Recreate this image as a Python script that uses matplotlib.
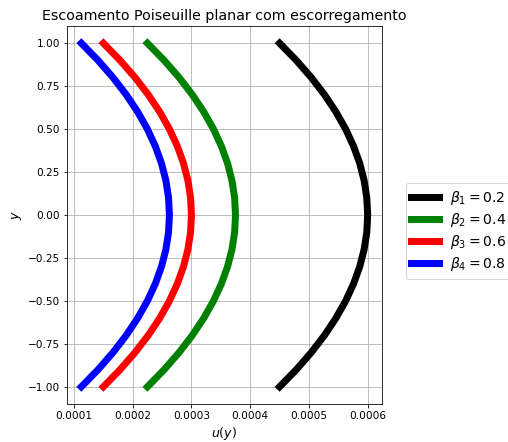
import matplotlib
matplotlib.use("Agg")
import matplotlib.pyplot as plt

# ========== 数据 ==========
y_vals = [-1.0, -0.9, -0.8, -0.7, -0.6, -0.5, -0.4, -0.3, -0.2, -0.1, 0.0,
          0.1, 0.2, 0.3, 0.4, 0.5, 0.6, 0.7, 0.8, 0.9, 1.0]

# u(y) em unidades de 1e-4
u_beta1 = [4.5, 4.785, 5.04, 5.265, 5.46, 5.625, 5.76, 5.865, 5.94, 5.985, 6.0,
           5.985, 5.94, 5.865, 5.76, 5.625, 5.46, 5.265, 5.04, 4.785, 4.5]
u_beta2 = [2.25, 2.535, 2.79, 3.015, 3.21, 3.375, 3.51, 3.615, 3.69, 3.735, 3.75,
           3.735, 3.69, 3.615, 3.51, 3.375, 3.21, 3.015, 2.79, 2.535, 2.25]
u_beta3 = [1.5, 1.785, 2.04, 2.265, 2.46, 2.625, 2.76, 2.865, 2.94, 2.985, 3.0,
           2.985, 2.94, 2.865, 2.76, 2.625, 2.46, 2.265, 2.04, 1.785, 1.5]
u_beta4 = [1.125, 1.41, 1.665, 1.89, 2.085, 2.25, 2.385, 2.49, 2.565, 2.61, 2.625,
           2.61, 2.565, 2.49, 2.385, 2.25, 2.085, 1.89, 1.665, 1.41, 1.125]

betas = ["0.2", "0.4", "0.6", "0.8"]
colors = ["black", "green", "red", "blue"]
series = [u_beta1, u_beta2, u_beta3, u_beta4]

W, H = 508, 442
fig = plt.figure(figsize=(W / 72, H / 72), dpi=72)
ax = fig.add_axes([67 / W, 1 - 404 / H, (382 - 67) / W, (404 - 26) / H])

for i, (u, c, b) in enumerate(zip(series, colors, betas)):
    ax.plot([v * 1e-4 for v in u], y_vals, color=c, linewidth=7,
            label=rf"$\beta_{i + 1} = {b}$")

ax.set_title("Escoamento Poiseuille planar com escorregamento", fontsize=14.3)
ax.set_xlabel("$u(y)$", fontsize=12.5)
ax.set_ylabel("$y$", fontsize=12.5)
ax.set_xticks([0.0001, 0.0002, 0.0003, 0.0004, 0.0005, 0.0006])
ax.set_xticklabels(["0.0001", "0.0002", "0.0003", "0.0004", "0.0005", "0.0006"])
ax.tick_params(labelsize=10.5)
ax.grid(True)
ax.legend(loc="center left", bbox_to_anchor=(1.053, 0.458), fontsize=14,
          labelspacing=0.3)

fig.savefig("out.png", dpi=72)
